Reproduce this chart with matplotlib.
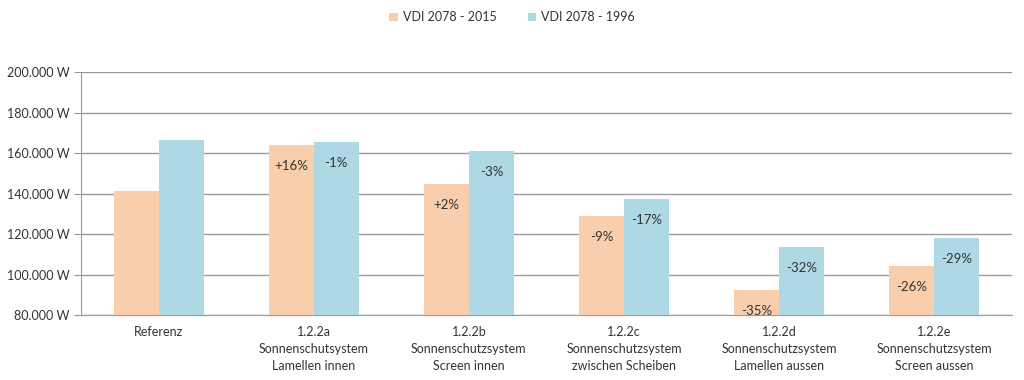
import numpy as np
import matplotlib.pyplot as plt

plt.rcParams['font.family'] = ['Lato', 'DejaVu Sans']

categories = ['Referenz',
              '1.2.2a\nSonnenschutsystem\nLamellen innen',
              '1.2.2b\nSonnenschutzsystem\nScreen innen',
              '1.2.2c\nSonnenschutzsystem\nzwischen Scheiben',
              '1.2.2d\nSonnenschutzsystem\nLamellen aussen',
              '1.2.2e\nSonnenschutzsystem\nScreen aussen']
vdi_2015 = [141300, 164000, 144700, 129000, 92300, 104200]
vdi_1996 = [166500, 165400, 160800, 137300, 113600, 118000]
labels_2015 = ['', '+16%', '+2%', '-9%', '-35%', '-26%']
labels_1996 = ['', '-1%', '-3%', '-17%', '-32%', '-29%']

c_2015 = '#F8CEAC'
c_1996 = '#AED8E4'

fig = plt.figure(figsize=(10.24, 3.8), dpi=100)
ax = fig.add_axes([81/1024, 65/380, 931/1024, 243/380])

x = np.arange(len(categories))
w = 0.29
b1 = ax.bar(x - w/2, vdi_2015, w, color=c_2015, label='VDI 2078 - 2015', zorder=3)
b2 = ax.bar(x + w/2, vdi_1996, w, color=c_1996, label='VDI 2078 - 1996', zorder=3)

for bars, labs in [(b1, labels_2015), (b2, labels_1996)]:
    for bar, lab in zip(bars, labs):
        if lab:
            ax.annotate(lab, (bar.get_x() + bar.get_width()/2, bar.get_height()),
                        xytext=(0, -15), textcoords='offset points',
                        ha='center', va='center', fontsize=9.5, color='#333333', zorder=4)

ax.set_ylim(80000, 200000)
ax.set_xlim(-0.5, len(categories) - 0.5)
yt = np.arange(80000, 200001, 20000)
ax.set_yticks(yt)
ax.set_yticklabels(['{:,.0f} W'.format(v).replace(',', '.') for v in yt], fontsize=9, color='#333333')
ax.set_xticks(x)
ax.set_xticklabels(categories, fontsize=9, color='#333333', linespacing=1.5)
ax.tick_params(axis='x', length=0, pad=8)
ax.tick_params(axis='y', length=5, color='#9a9a9a', pad=3)
ax.grid(axis='y', color='#9a9a9a', lw=1, zorder=0)
for s in ['top', 'right']:
    ax.spines[s].set_visible(False)
ax.spines['left'].set_color('#9a9a9a')
ax.spines['bottom'].set_color('#9a9a9a')

fig.legend(loc='upper center', bbox_to_anchor=(0.5, 1.0), ncol=2, frameon=False,
           fontsize=9, handlelength=0.7, handleheight=0.7, columnspacing=2.5,
           handletextpad=0.4, labelcolor='#333333')

fig.savefig('out.png', dpi=100)
